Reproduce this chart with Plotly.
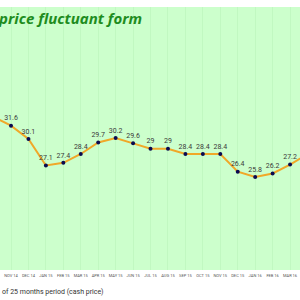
import plotly.graph_objects as go

months = ["OCT 14", "NOV 14", "DEC 14", "JAN 15", "FEB 15", "MAR 15", "APR 15", "MAY 15",
          "JUN 15", "JUL 15", "AUG 15", "SEP 15", "OCT 15", "NOV 15", "DEC 15",
          "JAN 16", "FEB 16", "MAR 16", "APR 16"]
prices = [32.6, 31.6, 30.1, 27.1, 27.4, 28.4, 29.7, 30.2, 29.6, 29, 29, 28.4, 28.4, 28.4,
          26.4, 25.8, 26.2, 27.2, 28.4]
# labels of the points that fall outside the visible frame are not shown
labels = ["", "31.6", "30.1", "27.1", "27.4", "28.4", "29.7", "30.2", "29.6", "29", "29",
          "28.4", "28.4", "28.4", "26.4", "25.8", "26.2", "27.2", ""]

idx = list(range(len(months)))

fig = go.Figure()
fig.add_trace(go.Scatter(
    x=idx, y=prices, mode="lines+markers+text",
    text=labels, textposition="top center",
    textfont=dict(family="Roboto", size=7, color="#3a3a3a"),
    line=dict(color="#f0a828", width=2),
    marker=dict(color="#0a0a50", size=4),
    cliponaxis=True,
))

fig.update_layout(
    width=300, height=300,
    margin=dict(l=0, r=0, t=7, b=30),
    paper_bgcolor="white",
    plot_bgcolor="#ccffcc",
    showlegend=False,
    xaxis=dict(range=[0.369, 17.57], tickvals=idx, ticktext=months,
               tickfont=dict(family="Roboto", size=4, color="#555555"),
               showgrid=True, gridcolor="rgba(0,120,0,0.05)", gridwidth=1,
               zeroline=False, showline=False, ticks="", ticklabelstandoff=2),
    yaxis=dict(range=[15.3, 45.0], showgrid=False, zeroline=False,
               showticklabels=False, ticks=""),
    annotations=[
        dict(text="price fluctuant form", xref="paper", yref="paper",
             x=-0.012, y=1.005, xanchor="left", yanchor="top", showarrow=False,
             font=dict(family="Open Sans", size=15, color="#1e8c1e",
                       weight="bold", style="italic")),
        dict(text="of 25 months period (cash price)", xref="paper", yref="paper",
             x=0.0, y=-0.06, xanchor="left", yanchor="top", showarrow=False,
             font=dict(family="Roboto", size=7, color="#333333")),
    ],
)

fig.write_html("out.html")
